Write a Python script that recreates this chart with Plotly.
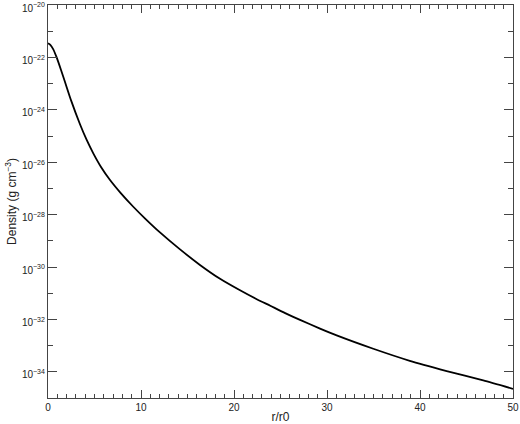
import plotly.graph_objects as go

# radius in units of r0, and log10 of density in g cm^-3
r = [0, 0.25, 0.57, 0.93, 1.4, 1.82, 2.5, 3.44, 4.16, 4.87, 5.7, 6.67, 7.8,
     9.17, 10.5, 12.04, 14.1, 16.34, 18.5, 20.6, 22.4, 23.9, 25.5, 27.1,
     29.25, 31.04, 34.98, 38.9, 42.87, 46.8, 50]
log_density = [-21.46, -21.52, -21.69, -22.0, -22.48, -22.93, -23.66, -24.55,
               -25.15, -25.66, -26.18, -26.68, -27.17, -27.7, -28.17, -28.68,
               -29.3, -29.92, -30.45, -30.88, -31.22, -31.48, -31.76, -32.02,
               -32.35, -32.61, -33.12, -33.58, -33.97, -34.33, -34.65]
density = [10.0 ** v for v in log_density]

x_ticks = [0, 10, 20, 30, 40, 50]
y_exps = [-34, -32, -30, -28, -26, -24, -22, -20]
y_minor_exps = [-35, -33, -31, -29, -27, -25, -23, -21]

axis_col = "#444444"
font = dict(family="Liberation Sans, Arial, sans-serif", size=10, color="#222222")

fig = go.Figure()
fig.add_trace(go.Scatter(x=r, y=density, mode="lines", line_shape="spline",
                         line=dict(color="black", width=1.8, smoothing=0.6),
                         showlegend=False))

fig.update_xaxes(
    range=[0, 50], tickvals=x_ticks, ticks="inside", ticklen=8, tickwidth=1,
    tickcolor=axis_col, showline=True, linecolor=axis_col, linewidth=1.2,
    mirror="ticks", showgrid=False, zeroline=False, automargin=False,
    ticklabeloverflow="allow",
    minor=dict(dtick=1, ticks="inside", ticklen=4, tickcolor=axis_col, showgrid=False),
    title=dict(text="r/r0", standoff=0), tickfont=font,
)
fig.update_yaxes(
    type="log", range=[-35, -19.999],
    tickvals=[10.0 ** e for e in y_exps],
    ticktext=["10<sup>\u2212%d</sup>" % (-e) for e in y_exps],
    ticks="inside", ticklen=9, tickwidth=1, tickcolor=axis_col,
    showline=True, linecolor=axis_col, linewidth=1.2, mirror="ticks",
    showgrid=False, zeroline=False, automargin=False,
    ticklabeloverflow="allow", ticklabelshift=3,
    minor=dict(tickvals=[10.0 ** e for e in y_minor_exps], ticks="inside",
               ticklen=5, tickcolor=axis_col, showgrid=False),
    title=dict(text="Density (g cm<sup>\u22123</sup>)", standoff=2), tickfont=font,
)
fig.update_layout(
    width=520, height=424,
    margin=dict(l=48, r=7, t=5, b=26),
    paper_bgcolor="white", plot_bgcolor="white",
    font=font,
)
# page has a default 8px body margin, drop it so the plot sits where the reference does
fig.write_html("out.html", config={"displayModeBar": False},
               post_script="document.body.style.margin='0px';")
